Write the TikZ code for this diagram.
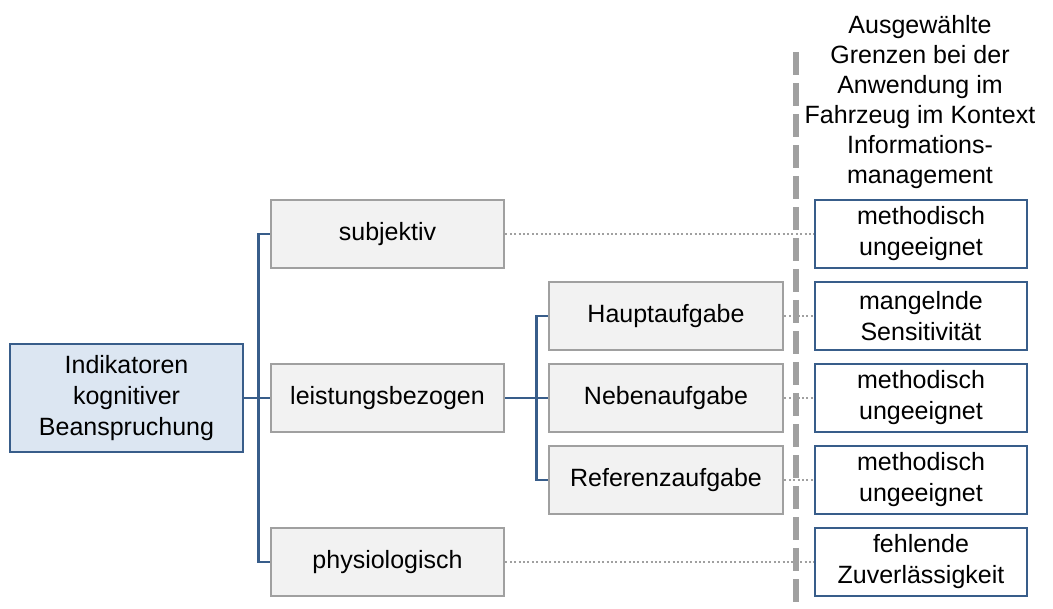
\documentclass[tikz,border=0pt]{standalone}
\usepackage{fontspec}
\setmainfont{Liberation Sans}
\usetikzlibrary{positioning}
\definecolor{boxblue}{HTML}{385D8A}
\definecolor{fillblue}{HTML}{DCE6F2}
\definecolor{fillgray}{HTML}{F2F2F2}
\definecolor{linegray}{HTML}{A0A0A0}

\begin{document}
\begin{tikzpicture}[x=1pt,y=-1pt,
	every node/.style={font=\fontsize{25}{31}\selectfont, align=center, inner sep=0pt},
	rootbox/.style={draw=boxblue, fill=fillblue, line width=2.8pt, minimum width=233, minimum height=108},
	greybox/.style={draw=linegray, fill=fillgray, line width=2.8pt, minimum width=233, minimum height=68},
	limitbox/.style={draw=boxblue, fill=white, line width=2.6pt, minimum width=212, minimum height=68},
	branch/.style={draw=boxblue, line width=2.6pt},
	dotline/.style={draw=linegray, line width=1.8pt, dash pattern=on 2pt off 2.4pt},
	separator/.style={draw=linegray, line width=6.5pt, dash pattern=on 23pt off 8pt}]
	%%%%% START %%%%%
	\useasboundingbox (0,0) rectangle (1053,609);
	
	\node[rootbox] (root) at (126.5,398) {Indikatoren\\kognitiver\\Beanspruchung};
	
	\node[greybox] (subj) at (387.5,234) {subjektiv};
	\node[greybox] (leist) at (387.5,398) {leistungsbezogen};
	\node[greybox] (phys) at (387.5,562) {physiologisch};
	
	\node[greybox, minimum width=234] (haupt) at (666,316) {Hauptaufgabe};
	\node[greybox, minimum width=234] (neben) at (666,398) {Nebenaufgabe};
	\node[greybox, minimum width=234] (ref) at (666,480) {Referenzaufgabe};
	
	\node[limitbox] (lim1) at (921,234) {methodisch\\ungeeignet};
	\node[limitbox] (lim2) at (921,316) {mangelnde\\Sensitivit\"at};
	\node[limitbox] (lim3) at (921,398) {methodisch\\ungeeignet};
	\node[limitbox] (lim4) at (921,480) {methodisch\\ungeeignet};
	\node[limitbox] (lim5) at (921,562) {fehlende\\Zuverl\"assigkeit};
	
	\node[anchor=north, font=\fontsize{25}{30}\selectfont] (head) at (920,15) {Ausgew\"ahlte\\Grenzen bei der\\Anwendung im\\Fahrzeug im Kontext\\Informations-\\management};
	
	% tree branches
	\draw[branch] (root.east) -- (leist.west);
	\draw[branch] (root.east) -- ++(14,0) |- (subj.west);
	\draw[branch] (root.east) -- ++(14,0) |- (phys.west);
	\draw[branch] (leist.east) -- (neben.west);
	\draw[branch] (leist.east) -- ++(31,0) |- (haupt.west);
	\draw[branch] (leist.east) -- ++(31,0) |- (ref.west);
	
	% dotted links to the limits
	\draw[dotline] (subj.east) -- (lim1.west);
	\draw[dotline] (haupt.east) -- (lim2.west);
	\draw[dotline] (neben.east) -- (lim3.west);
	\draw[dotline] (ref.east) -- (lim4.west);
	\draw[dotline] (phys.east) -- (lim5.west);
	
	% separator
	\coordinate (septop) at (796,52);
	\coordinate (sepbot) at (796,612);
	\draw[separator] (septop) -- (sepbot);
	
	%%%%% END %%%%%
\end{tikzpicture}
\end{document}
